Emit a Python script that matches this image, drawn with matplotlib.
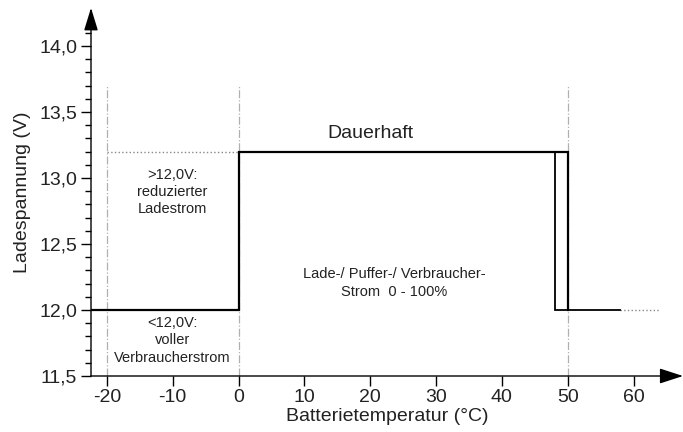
import matplotlib
matplotlib.use("Agg")
import numpy as np
import matplotlib.pyplot as plt
from matplotlib.ticker import FuncFormatter, FixedLocator

plt.rcParams['font.family'] = ['Liberation Sans', 'DejaVu Sans']
plt.rcParams['axes.unicode_minus'] = False

# Data
temp_main = [-22.4, 0, 0, 50, 50]
volt_main = [12.0, 12.0, 13.2, 13.2, 12.0]
temp_second = [48, 48, 58]
volt_second = [13.2, 12.0, 12.0]
temp_dot_top = [-20, 0]
volt_dot_top = [13.2, 13.2]
temp_dot_right = [58, 64]
volt_dot_right = [12.0, 12.0]
ref_temps = [-20, 0, 50]
ref_top = 13.7
x_ticks = [-20, -10, 0, 10, 20, 30, 40, 50, 60]
y_ticks = [11.5, 12.0, 12.5, 13.0, 13.5, 14.0]

txt_color = '#222222'
fig = plt.figure(figsize=(6.83, 4.32), dpi=100)
ax = fig.add_axes([91/683, 56/432, 592/683, 367/432])
ax.set_xlim(-22.4, 67.5)
ax.set_ylim(11.5, 14.28)

for s in ['top', 'right', 'left', 'bottom']:
    ax.spines[s].set_visible(False)

# axis lines with arrows
ax.annotate('', xy=(1, 0), xytext=(0, 0), xycoords='axes fraction',
            arrowprops=dict(arrowstyle='-|>,head_length=1.45,head_width=0.47',
                            color='black', lw=1.0, shrinkA=0, shrinkB=0))
ax.annotate('', xy=(0, 1.003), xytext=(0, 0), xycoords='axes fraction',
            arrowprops=dict(arrowstyle='-|>,head_length=1.4,head_width=0.43',
                            color='black', lw=1.0, shrinkA=0, shrinkB=0))

ax.vlines(ref_temps, 11.5, ref_top, colors='#b0b0b0', linestyles='dashdot', lw=0.9)
ax.plot(temp_dot_top, volt_dot_top, color='#888888', ls=':', lw=1.0)
ax.plot(temp_dot_right, volt_dot_right, color='#888888', ls=':', lw=1.0)
ax.plot(temp_main, volt_main, color='black', lw=1.6, solid_joinstyle='miter')
ax.plot(temp_second, volt_second, color='black', lw=1.3, solid_joinstyle='miter')

ax.xaxis.set_major_locator(FixedLocator(x_ticks))
ax.yaxis.set_major_locator(FixedLocator(y_ticks))
ax.yaxis.set_minor_locator(FixedLocator(np.round(np.arange(11.5, 14.15, 0.1), 1)))
ax.yaxis.set_major_formatter(FuncFormatter(lambda v, p: f"{v:.1f}".replace('.', ',')))
ax.tick_params(axis='both', which='major', direction='out', length=7, width=1.0,
               labelsize=14, labelcolor=txt_color)
ax.tick_params(axis='y', which='major', pad=3)
ax.tick_params(axis='x', which='major', pad=2)
ax.tick_params(axis='y', which='minor', direction='out', length=4, width=1.0)

ax.set_xlabel('Batterietemperatur (°C)', fontsize=14, color=txt_color, labelpad=2)
ax.set_ylabel('Ladespannung (V)', fontsize=14, color=txt_color, labelpad=6)

ax.text(20, 13.34, 'Dauerhaft', ha='center', va='center', fontsize=14, color=txt_color)
ax.text(-10, 12.894, '>12,0V:\nreduzierter\nLadestrom', ha='center', va='center',
        fontsize=10.5, color=txt_color, linespacing=1.3)
ax.text(-10, 11.77, '<12,0V:\nvoller\nVerbraucherstrom', ha='center', va='center',
        fontsize=10.5, color=txt_color, linespacing=1.35)
ax.text(23.7, 12.205, 'Lade-/ Puffer-/ Verbraucher-\nStrom  0 - 100%', ha='center',
        va='center', fontsize=10.5, color=txt_color, linespacing=1.3)

fig.savefig('out.png', dpi=100)
